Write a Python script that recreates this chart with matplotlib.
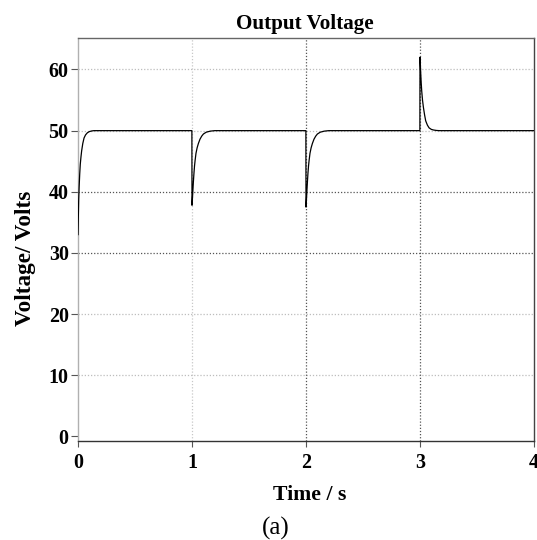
import matplotlib
matplotlib.use("Agg")
import matplotlib.pyplot as plt

# ---- data ----
time_s = [0.000, 0.003, 0.006, 0.010, 0.015, 0.020, 0.026, 0.032, 0.042, 0.053,
          0.066, 0.082, 0.100, 0.120, 0.140, 0.160, 0.220,
          0.999, 1.000, 1.002, 1.005, 1.008, 1.012, 1.017, 1.022, 1.027, 1.035,
          1.045, 1.056, 1.070, 1.085, 1.100, 1.125, 1.160, 1.200,
          1.999, 2.000, 2.002, 2.005, 2.008, 2.012, 2.017, 2.022, 2.027, 2.035,
          2.045, 2.056, 2.070, 2.085, 2.100, 2.125, 2.160, 2.200,
          2.999, 3.000, 3.003, 3.006, 3.010, 3.015, 3.022, 3.030, 3.040, 3.050,
          3.065, 3.080, 3.100, 3.120, 3.145, 3.170,
          4.000]
voltage = [33.0, 36.0, 38.6, 40.8, 42.9, 44.5, 45.7, 46.7, 47.9, 48.8,
           49.3, 49.65, 49.85, 49.95, 50.0, 50.0, 50.0,
           50.0, 37.8, 38.3, 39.3, 40.3, 41.6, 43.0, 44.2, 45.1, 46.3,
           47.2, 47.9, 48.6, 49.1, 49.45, 49.75, 49.92, 50.0,
           50.0, 37.5, 38.1, 39.1, 40.2, 41.5, 43.0, 44.2, 45.1, 46.3,
           47.2, 47.9, 48.6, 49.1, 49.45, 49.75, 49.92, 50.0,
           50.0, 62.0, 60.8, 59.5, 58.0, 56.5, 55.0, 53.8, 52.6, 51.6,
           50.9, 50.45, 50.2, 50.1, 50.03, 50.0,
           50.0]

x_ticks = [0, 1, 2, 3, 4]
y_ticks = [0, 10, 20, 30, 40, 50, 60]
title = "Output Voltage"
x_label = "Time / s"
y_label = "Voltage/ Volts"
caption = "(a)"

plt.rcParams['font.family'] = ['Liberation Serif', 'DejaVu Serif']

W, H = 537, 540
fig = plt.figure(figsize=(W / 100, H / 100), dpi=100)
L, R, T, B = 78, 534, 37.7, 441
ax = fig.add_axes([L / W, 1 - B / H, (R - L) / W, (B - T) / H])

ax.set_xlim(0, 4)
ax.set_ylim(-0.75, 65.2)

# grid lines (dotted)
dark = {30, 40}
for y in y_ticks[1:]:
    c = '#555555' if y in dark else '#bdbdbd'
    ax.axhline(y, color=c, linestyle=(0, (1, 1.5)), linewidth=0.9, zorder=1)
for x in [1, 2, 3]:
    c = '#555555' if x in (2, 3) else '#c8c8c8'
    ax.axvline(x, color=c, linestyle=(0, (1, 1.5)), linewidth=0.9, zorder=1)

ax.plot(time_s, voltage, color='black', linewidth=0.9, zorder=3)

ax.set_xticks(x_ticks)
ax.set_yticks(y_ticks)
ax.set_xticklabels([str(v) for v in x_ticks], fontsize=14.4, fontweight='bold')
ax.set_yticklabels([str(v) for v in y_ticks], fontsize=14.4, fontweight='bold')
ax.tick_params(axis='x', direction='out', length=4.5, width=0.8, color='#555555', pad=3.9)
ax.tick_params(axis='y', direction='out', length=5.2, width=0.8, color='#555555', pad=1.5)

ax.spines['left'].set_color('#b0b0b0')
ax.spines['top'].set_color('#666666')
ax.spines['bottom'].set_color('#333333')
ax.spines['right'].set_color('#444444')
for s in ax.spines.values():
    s.set_linewidth(1.0)

fig.text(305 / W, 1 - 28.5 / H, title, fontsize=15.2, fontweight='bold',
         ha='center', va='baseline')
fig.text(310 / W, 1 - 500 / H, x_label, fontsize=15.7, fontweight='bold',
         ha='center', va='baseline')
fig.text(25 / W, 1 - 258 / H, y_label, fontsize=16.7, fontweight='bold',
         ha='center', va='center', rotation=90)
fig.text(276 / W, 1 - 528 / H, caption, fontsize=18, ha='center', va='center')

fig.savefig("out.png", dpi=100)
